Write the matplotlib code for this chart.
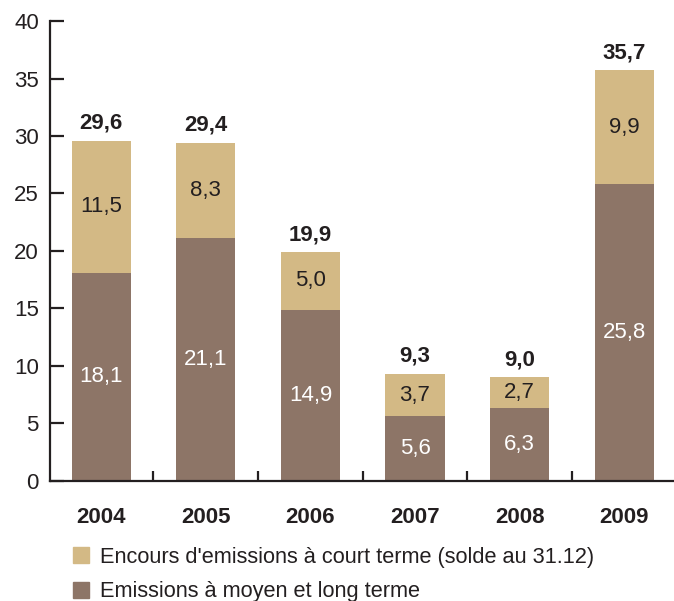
import numpy as np
import matplotlib.pyplot as plt
from matplotlib.patches import Patch

years = ["2004", "2005", "2006", "2007", "2008", "2009"]
long_term = [18.1, 21.1, 14.9, 5.6, 6.3, 25.8]
short_term = [11.5, 8.3, 5.0, 3.7, 2.7, 9.9]
totals = [29.6, 29.4, 19.9, 9.3, 9.0, 35.7]
legend_labels = ["Encours d'emissions à court terme (solde au 31.12)",
                 "Emissions à moyen et long terme"]

TAN = "#d3b985"
BROWN = "#8d7567"
INK = "#231f20"
FS = 16

plt.rcParams['font.family'] = ['Liberation Sans', 'DejaVu Sans']

fig = plt.figure(figsize=(6.74, 6.01), dpi=100)
ax = fig.add_axes([0.074, 0.2, 0.936, 0.765])

x = np.arange(len(years))
w = 0.565
ax.bar(x, long_term, w, color=BROWN)
ax.bar(x, short_term, w, bottom=long_term, color=TAN)

def fmt(v):
    return f"{v:.1f}".replace(".", ",")

for i in range(len(years)):
    ax.text(x[i], long_term[i] / 2, fmt(long_term[i]), ha='center', va='center',
            color='white', fontsize=FS)
    ax.text(x[i], long_term[i] + short_term[i] / 2, fmt(short_term[i]),
            ha='center', va='center', color=INK, fontsize=FS)
    ax.annotate(fmt(totals[i]), (x[i], totals[i]), xytext=(0, 5),
                textcoords='offset points', ha='center', va='bottom',
                fontsize=FS, fontweight='bold', color=INK)

ax.set_ylim(0, 40)
ax.set_xlim(-0.49, 5.54)
ax.set_yticks(range(0, 41, 5))
ax.set_xticks(x)
ax.set_xticklabels(years, fontweight='bold', fontsize=FS, color=INK)
ax.set_xticks(x[:-1] + 0.5, minor=True)

for s in ['top', 'right']:
    ax.spines[s].set_visible(False)
for s in ['left', 'bottom']:
    ax.spines[s].set_color(INK)
    ax.spines[s].set_linewidth(1.6)

ax.tick_params(axis='y', direction='in', length=10, width=1.6, color=INK,
               labelsize=FS, labelcolor=INK, pad=8)
ax.tick_params(axis='x', which='major', length=0, pad=19)
ax.tick_params(axis='x', which='minor', direction='in', length=7, width=1.6,
               color=INK)

handles = [Patch(color=TAN), Patch(color=BROWN)]
fig.legend(handles, legend_labels, loc='upper left', bbox_to_anchor=(0.108, 0.09),
           frameon=False, fontsize=15.7, handlelength=0.75, handleheight=0.75,
           handletextpad=0.5, labelspacing=0.62, borderaxespad=0, borderpad=0,
           labelcolor=INK)

fig.savefig("out.png", dpi=100)
